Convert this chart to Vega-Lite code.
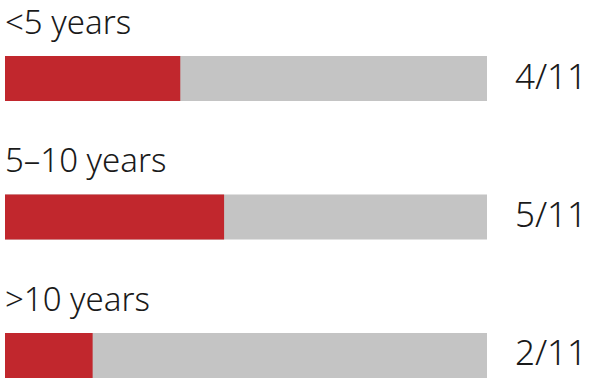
{
  "$schema": "https://vega.github.io/schema/vega-lite/v6.json",
  "width": 592,
  "height": 382,
  "autosize": "none",
  "padding": 0,
  "background": "white",
  "config": {"view": {"stroke": null}},
  "data": {"values": [
    {"group": "<5 years", "value": 4, "total": 11, "label": "4/11"},
    {"group": "5–10 years", "value": 5, "total": 11, "label": "5/11"},
    {"group": ">10 years", "value": 2, "total": 11, "label": "2/11"}
  ]},
  "encoding": {
    "y": {"field": "group", "type": "nominal", "sort": null, "axis": null,
      "scale": {"range": [56, 378], "paddingInner": 0.675, "paddingOuter": 0}}
  },
  "layer": [
    {"mark": {"type": "bar", "color": "#c4c4c4"},
     "encoding": {"x": {"field": "total", "type": "quantitative", "axis": null,
       "scale": {"domain": [0, 11], "range": [5, 487], "nice": false, "zero": true}}}},
    {"mark": {"type": "bar", "color": "#c1272d"},
     "encoding": {"x": {"field": "value", "type": "quantitative"}}},
    {"mark": {"type": "text", "align": "left", "baseline": "alphabetic", "dy": -22, "font": "Noto Sans", "fontWeight": 300, "fontSize": 33, "color": "#1a1a1a"},
     "encoding": {"x": {"datum": 0, "type": "quantitative"},
       "y": {"field": "group", "type": "nominal", "sort": null, "bandPosition": 0},
       "text": {"field": "group"}}},
    {"mark": {"type": "text", "align": "right", "baseline": "middle", "dx": 100, "dy": -1, "font": "Noto Sans", "fontWeight": 300, "fontSize": 35, "color": "#1a1a1a"},
     "encoding": {"x": {"field": "total", "type": "quantitative"},
       "text": {"field": "label"}}}
  ]
}
